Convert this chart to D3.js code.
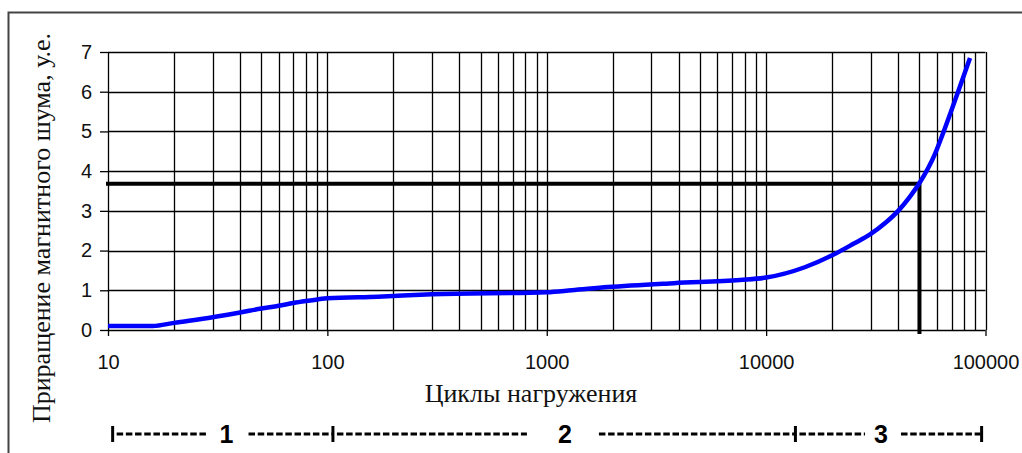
<!DOCTYPE html>
<html>
<head>
<meta charset="utf-8">
<script src="https://cdn.jsdelivr.net/npm/d3@7/dist/d3.min.js"></script>
<style>
  html, body { margin: 0; padding: 0; background: #fff; }
  svg { display: block; }
</style>
</head>
<body>
<svg id="chart"></svg>
<script>
const WIDTH = 1022;
const HEIGHT = 453;
const LEFT = 108;
const RIGHT = 985.5;
const TOP = 52;
const BOTTOM = 330;

// curve
const cycles = [10, 16, 20, 30, 40, 50, 60, 70, 80, 90, 100, 170, 300, 1000, 1300, 1900, 3800, 7600, 10000, 15000, 20000, 25000, 30000, 35000, 40000, 45000, 50000, 59000, 64500, 75000, 85000];
const noise = [0.1, 0.1, 0.18, 0.32, 0.44, 0.54, 0.61, 0.68, 0.73, 0.77, 0.8, 0.84, 0.9, 0.95, 1.0, 1.08, 1.18, 1.26, 1.32, 1.58, 1.88, 2.17, 2.42, 2.7, 3.0, 3.34, 3.7, 4.45, 5.0, 6.0, 6.85];

// marker lines
const markCycles = 50000;
const markNoise = 3.68;

const xTicks = [10, 100, 1000, 10000, 100000];
const yTicks = [0, 1, 2, 3, 4, 5, 6, 7];

// stage bar under the axis
const stageBounds = [10.5, 106, 13600, 96000];
const stageLabels = ["1", "2", "3"];
const stageLabelAt = [34.7, 1210, 33400];

const xScale = d3.scaleLog().domain([10, 100000]).range([LEFT, RIGHT]);
const yScale = d3.scaleLinear().domain([0, 7]).range([BOTTOM, TOP]);

const svg = d3.select("#chart").attr("width", WIDTH).attr("height", HEIGHT);

// outer frame
svg.append("rect")
   .attr("x", 8.5).attr("y", 12.5)
   .attr("width", 1040).attr("height", 480)
   .attr("fill", "none").attr("stroke", "#444").attr("stroke-width", 2);

// vertical grid, 1..9 per decade
const minorX = [];
xTicks.slice(0, -1).forEach(d => { for (let k = 1; k < 10; k++) minorX.push(d * k); });
minorX.push(100000);

svg.append("g").selectAll("line")
   .data(minorX)
   .enter().append("line")
   .attr("x1", d => Math.round(xScale(d)) + 0.5)
   .attr("x2", d => Math.round(xScale(d)) + 0.5)
   .attr("y1", TOP).attr("y2", BOTTOM)
   .attr("stroke", "#000").attr("stroke-width", 1.3);

svg.append("g").selectAll("line")
   .data(yTicks)
   .enter().append("line")
   .attr("x1", LEFT).attr("x2", RIGHT)
   .attr("y1", d => Math.round(yScale(d)) + 0.5)
   .attr("y2", d => Math.round(yScale(d)) + 0.5)
   .attr("stroke", "#000").attr("stroke-width", 1.3);

const gx = svg.append("g")
   .attr("transform", `translate(0,${BOTTOM})`)
   .call(d3.axisBottom(xScale).tickValues(xTicks).tickFormat(d3.format("d")).tickSize(6).tickPadding(19));
const gy = svg.append("g")
   .attr("transform", `translate(${LEFT},0)`)
   .call(d3.axisLeft(yScale).tickValues(yTicks).tickFormat(d3.format("d")).tickSize(8).tickPadding(8));

[gx, gy].forEach(g => {
   g.select(".domain").remove();
   g.selectAll(".tick line").attr("stroke", "#000").attr("stroke-width", 1.3);
   g.selectAll(".tick text")
      .attr("fill", "#111")
      .style("font-family", "'Liberation Sans', Arial, sans-serif")
      .style("font-size", "20px");
});

// black guide lines
svg.append("line")
   .attr("x1", LEFT - 2).attr("x2", xScale(markCycles))
   .attr("y1", yScale(markNoise)).attr("y2", yScale(markNoise))
   .attr("stroke", "#000").attr("stroke-width", 4);
svg.append("line")
   .attr("x1", xScale(markCycles)).attr("x2", xScale(markCycles))
   .attr("y1", yScale(markNoise) - 2).attr("y2", BOTTOM + 4)
   .attr("stroke", "#000").attr("stroke-width", 4);

// blue curve
const line = d3.line()
   .x((d, i) => xScale(cycles[i]))
   .y(d => yScale(d))
   .curve(d3.curveMonotoneX);

svg.append("path")
   .attr("d", line(noise))
   .attr("fill", "none")
   .attr("stroke", "#0000ff")
   .attr("stroke-width", 4.5);

// axis titles
svg.append("text")
   .attr("x", 531).attr("y", 402)
   .attr("text-anchor", "middle")
   .style("font-family", "'Liberation Serif', 'Times New Roman', serif")
   .style("font-size", "26px")
   .attr("fill", "#111")
   .text("Циклы нагружения");

svg.append("text")
   .attr("transform", "translate(50,228) rotate(-90)")
   .attr("text-anchor", "middle")
   .style("font-family", "'Liberation Serif', 'Times New Roman', serif")
   .style("font-size", "26px")
   .attr("fill", "#111")
   .text("Приращение магнитного шума, у.е.");

// stage bar
const STAGE_Y = 434;
const stageGap = [[20, 22], [38, 34], [16, 20]];
const stage = svg.append("g");
stage.selectAll("line.bound")
   .data(stageBounds)
   .enter().append("line")
   .attr("class", "bound")
   .attr("x1", d => xScale(d)).attr("x2", d => xScale(d))
   .attr("y1", STAGE_Y - 8).attr("y2", STAGE_Y + 8)
   .attr("stroke", "#000").attr("stroke-width", 3);

stageLabels.forEach((lab, i) => {
   const x0 = xScale(stageBounds[i]);
   const x1 = xScale(stageBounds[i + 1]);
   const mid = xScale(stageLabelAt[i]);
   stage.append("line")
      .attr("x1", x0 + 4).attr("x2", mid - stageGap[i][0])
      .attr("y1", STAGE_Y).attr("y2", STAGE_Y)
      .attr("stroke", "#000").attr("stroke-width", 3)
      .attr("stroke-dasharray", "6.5,2.7");
   stage.append("line")
      .attr("x1", mid + stageGap[i][1]).attr("x2", x1 - 1)
      .attr("y1", STAGE_Y).attr("y2", STAGE_Y)
      .attr("stroke", "#000").attr("stroke-width", 3)
      .attr("stroke-dasharray", "6.5,2.7");
   stage.append("text")
      .attr("x", mid).attr("y", 443)
      .attr("text-anchor", "middle")
      .style("font-family", "'Liberation Sans', Arial, sans-serif")
      .style("font-weight", "bold")
      .style("font-size", "25px")
      .attr("fill", "#000")
      .text(lab);
});
</script>
</body>
</html>
